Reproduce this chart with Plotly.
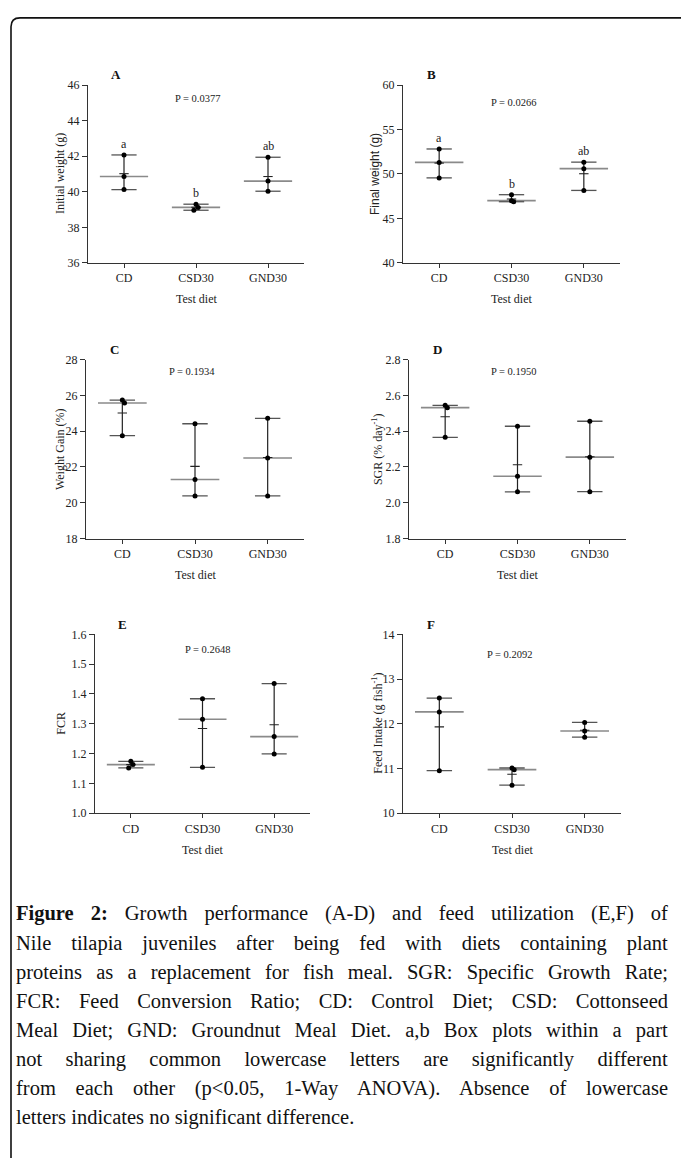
import plotly.graph_objects as go
import numpy as np

W, H = 681, 1165

categories = ["CD", "CSD30", "GND30"]

# values per group (CD, CSD30, GND30), three replicate tanks each
initial_weight = [[42.07, 40.86, 40.12], [39.30, 39.12, 38.96], [41.94, 40.60, 40.03]]
final_weight = [[52.81, 51.30, 49.56], [47.67, 47.00, 46.88], [51.33, 50.60, 48.15]]
weight_gain = [[25.74, 25.58, 23.75], [24.42, 21.30, 20.38], [24.72, 22.50, 20.38]]
sgr = [[2.545, 2.532, 2.366], [2.428, 2.148, 2.061], [2.456, 2.255, 2.062]]
fcr = [[1.174, 1.163, 1.152], [1.384, 1.315, 1.154], [1.435, 1.257, 1.199]]
feed_intake = [[12.576, 12.266, 10.952], [11.011, 10.974, 10.627], [12.030, 11.840, 11.700]]

p_values = ["P = 0.0377", "P = 0.0266", "P = 0.1934", "P = 0.1950", "P = 0.2648", "P = 0.2092"]
sig_letters_a = ["a", "b", "ab"]
sig_letters_b = ["a", "b", "ab"]

y_titles = ["Initial weight (g)", "Final weight (g)", "Weight Gain (%)",
            "SGR (% day<sup>-1</sup>)", "FCR", "Feed Intake (g fish<sup>-1</sup>)"]

caption_lines = [
    "<b>Figure 2:</b> Growth performance (A-D) and feed utilization (E,F) of",
    "Nile tilapia juveniles after being fed with diets containing plant",
    "proteins as a replacement for fish meal. SGR: Specific Growth Rate;",
    "FCR: Feed Conversion Ratio; CD: Control Diet; CSD: Cottonseed",
    "Meal Diet; GND: Groundnut Meal Diet. a,b Box plots within a part",
    "not sharing common lowercase letters are significantly different",
    "from each other (p&lt;0.05, 1-Way ANOVA). Absence of lowercase",
    "letters indicates no significant difference.",
]

# ---------- layout / styling (pixel boxes) ----------
panels = [
    dict(label="A", data=initial_weight, yr=[36, 46], dt=2, fmt="d", box=(88, 304, 79, 259),
         ytx=60, letters=sig_letters_a, pxy=(0.509, 0.924), tfont="Liberation Serif"),
    dict(label="B", data=final_weight, yr=[40, 60], dt=5, fmt="d", box=(403, 620, 79, 259),
         ytx=375, letters=sig_letters_b, pxy=(0.512, 0.903), tfont="Liberation Sans"),
    dict(label="C", data=weight_gain, yr=[18, 28], dt=2, fmt="d", box=(86, 304, 357, 538),
         ytx=60, letters=None, pxy=(0.485, 0.934), tfont="Liberation Serif"),
    dict(label="D", data=sgr, yr=[1.8, 2.8], dt=0.2, fmt=".1f", box=(409, 626, 357, 538),
         ytx=377, letters=None, pxy=(0.485, 0.934), tfont="Liberation Serif"),
    dict(label="E", data=fcr, yr=[1.0, 1.6], dt=0.1, fmt=".1f", box=(95, 310, 635, 816),
         ytx=61, letters=None, pxy=(0.526, 0.917), tfont="Liberation Serif"),
    dict(label="F", data=feed_intake, yr=[10, 14], dt=1, fmt="d", box=(403, 621, 635, 816),
         ytx=378, letters=None, pxy=(0.492, 0.889), tfont="Liberation Serif"),
]

SERIF = "Liberation Serif"
AX = "#333333"
fig = go.Figure()
annotations = []


def fx(x):
    return x / W


def fy(y):
    return 1 - y / H


CAP, MED, MEAN = 0.175, 0.335, 0.065

for i, p in enumerate(panels, start=1):
    xa = "x" if i == 1 else f"x{i}"
    ya = "y" if i == 1 else f"y{i}"
    x0, x1, y0, y1 = p["box"]
    span = p["yr"][1] - p["yr"][0]

    vx, vy, cx, cy, mx, my, ex, ey, dx, dy = [], [], [], [], [], [], [], [], [], []
    for g, vals in enumerate(p["data"]):
        v = np.array(vals, dtype=float)
        lo, hi, med, mean = v.min(), v.max(), float(np.median(v)), v.mean()
        vx += [g, g, None]; vy += [lo, hi, None]
        for c in (lo, hi):
            cx += [g - CAP, g + CAP, None]; cy += [c, c, None]
        mx += [g - MED, g + MED, None]; my += [med, med, None]
        ex += [g - MEAN, g + MEAN, None]; ey += [mean, mean, None]
        # small horizontal spread for nearly coincident points
        order = np.argsort(-v)
        prev = None
        sign = 1
        for k in order:
            off = 0.0
            if prev is not None and abs(v[k] - prev) < 0.025 * span:
                off = 0.03 * sign
                sign = -sign
            dx.append(g + off); dy.append(v[k])
            prev = v[k]

    fig.add_trace(go.Scatter(x=mx, y=my, mode="lines", line=dict(color="#8a8a8a", width=1.6),
                             xaxis=xa, yaxis=ya, hoverinfo="skip", showlegend=False))
    fig.add_trace(go.Scatter(x=vx, y=vy, mode="lines", line=dict(color="#222222", width=1.2),
                             xaxis=xa, yaxis=ya, hoverinfo="skip", showlegend=False))
    fig.add_trace(go.Scatter(x=cx, y=cy, mode="lines", line=dict(color="#555555", width=1.3),
                             xaxis=xa, yaxis=ya, hoverinfo="skip", showlegend=False))
    fig.add_trace(go.Scatter(x=ex, y=ey, mode="lines", line=dict(color="#222222", width=1.1),
                             xaxis=xa, yaxis=ya, hoverinfo="skip", showlegend=False))
    fig.add_trace(go.Scatter(x=dx, y=dy, mode="markers",
                             marker=dict(color="black", size=5, symbol="circle"),
                             xaxis=xa, yaxis=ya, showlegend=False))

    axkey = "xaxis" if i == 1 else f"xaxis{i}"
    aykey = "yaxis" if i == 1 else f"yaxis{i}"
    fig.update_layout(**{
        axkey: dict(domain=[fx(x0), fx(x1)], anchor=ya, range=[-0.5, 2.5],
                    tickvals=[0, 1, 2], ticktext=categories, showline=True, linecolor=AX,
                    linewidth=1, ticks="outside", ticklen=4, tickcolor=AX, tickwidth=1,
                    showgrid=False, zeroline=False,
                    tickfont=dict(family=SERIF, size=12, color="#222222")),
        aykey: dict(domain=[fy(y1), fy(y0)], anchor=xa, range=p["yr"], dtick=p["dt"],
                    tick0=p["yr"][0], tickformat=p["fmt"], showline=True, linecolor=AX,
                    linewidth=1, ticks="outside", ticklen=5, tickcolor=AX, tickwidth=1,
                    showgrid=False, zeroline=False,
                    tickfont=dict(family=SERIF, size=12, color="#222222")),
    })

    # panel letter
    annotations.append(dict(text=f"<b>{p['label']}</b>", xref=f"{xa} domain", yref=f"{ya} domain",
                            x=0.13, y=1.057, showarrow=False, xanchor="center", yanchor="middle",
                            font=dict(family=SERIF, size=13, color="#111111")))
    # p-value
    annotations.append(dict(text=p_values[i - 1], xref=f"{xa} domain", yref=f"{ya} domain",
                            x=p["pxy"][0], y=p["pxy"][1], showarrow=False, xanchor="center",
                            yanchor="middle", font=dict(family=SERIF, size=10.5, color="#222222")))
    # significance letters
    if p["letters"]:
        for g, let in enumerate(p["letters"]):
            annotations.append(dict(text=let, xref=xa, yref=ya, x=g, y=max(p["data"][g]),
                                    showarrow=False, xanchor="center", yanchor="bottom", yshift=2,
                                    font=dict(family=SERIF, size=12, color="#222222")))
    # y title
    annotations.append(dict(text=y_titles[i - 1], xref="paper", yref="paper", x=fx(p["ytx"]),
                            y=fy((y0 + y1) / 2), textangle=-90, showarrow=False,
                            xanchor="center", yanchor="middle",
                            font=dict(family=p["tfont"], size=12, color="#222222")))
    # x title
    annotations.append(dict(text="Test diet", xref=f"{xa} domain", yref="paper", x=0.5,
                            y=fy(y1 + 37), showarrow=False, xanchor="center", yanchor="middle",
                            font=dict(family=SERIF, size=12, color="#222222")))

# caption
for k, line in enumerate(caption_lines):
    annotations.append(dict(text=line, xref="paper", yref="paper", x=fx(14), y=fy(918 + 29.5 * k),
                            showarrow=False, xanchor="left", yanchor="middle", align="left",
                            font=dict(family=SERIF, size=20.5, color="#111111")))

# frame (top and left edges with rounded corner)
r = 9
path = (f"M {fx(11):.5f},0 L {fx(11):.5f},{fy(11 + r):.5f} "
        f"Q {fx(11):.5f},{fy(11):.5f} {fx(11 + r):.5f},{fy(11):.5f} L 1,{fy(11):.5f}")

fig.update_layout(
    width=W, height=H, margin=dict(l=0, r=0, t=0, b=0),
    paper_bgcolor="white", plot_bgcolor="white",
    annotations=annotations,
    shapes=[dict(type="path", xref="paper", yref="paper", path=path,
                 line=dict(color="#111111", width=1.6))],
    showlegend=False,
)

justify_js = """
(function(){
  document.documentElement.style.margin = '0';
  document.body.style.margin = '0';
  document.body.style.padding = '0';
  document.body.style.overflow = 'hidden';
  var gd = document.querySelector('.plotly-graph-div');
  if (gd) {
    gd.style.position = 'absolute';
    gd.style.top = '0px';
    gd.style.left = '0px';
  }
  var texts = document.querySelectorAll('text.annotation-text');
  texts.forEach(function(t){
    try {
      var s = t.textContent;
      var w = t.getComputedTextLength();
      if (w < 300) return;
      if (s.indexOf('letters indicates') === 0) return;
      var n = (s.match(/ /g) || []).length;
      if (!n) return;
      var rect = t.getBoundingClientRect();
      var target = 668 - rect.left;
      var extra = (target - rect.width) / n;
      if (extra > 0 && extra < 60) { t.style.wordSpacing = extra + 'px'; }
    } catch(e) {}
  });
})();
"""

fig.write_html("out.html", post_script=justify_js, config={"displayModeBar": False})
